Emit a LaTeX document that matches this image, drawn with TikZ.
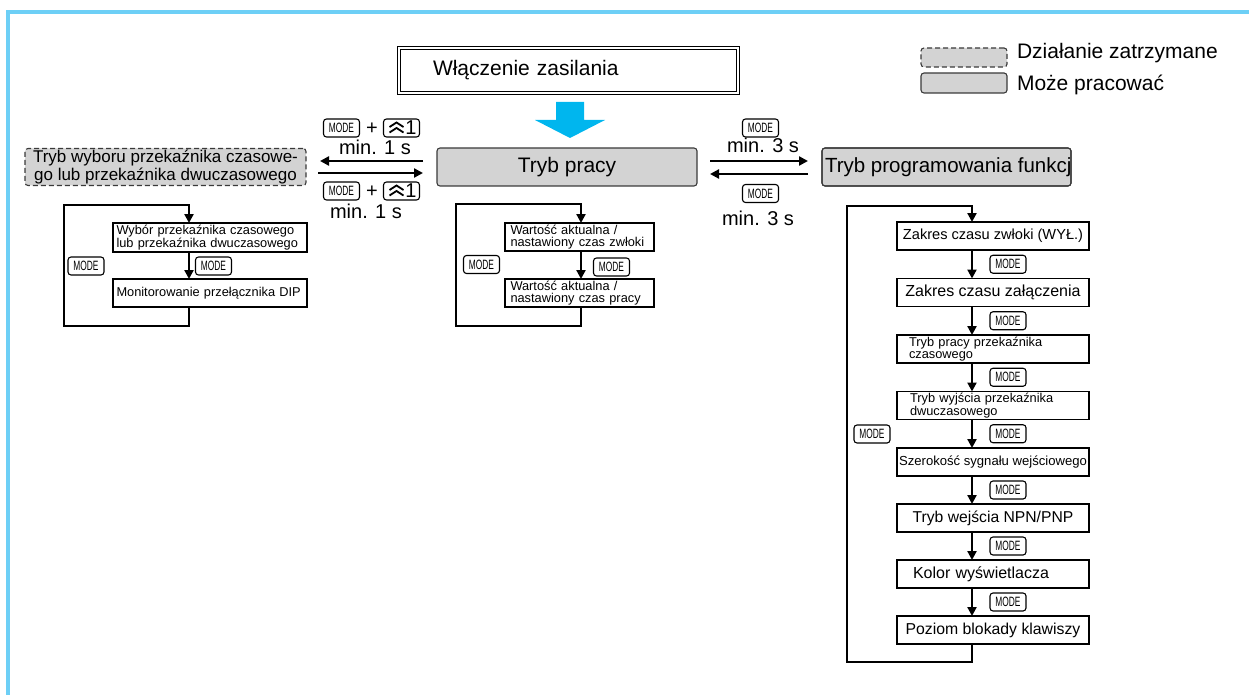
\documentclass[tikz,border=0pt]{standalone}
\usepackage{fontspec}
\usepackage{graphicx}
\setmainfont{Liberation Sans}
\usetikzlibrary{arrows.meta,calc}
\definecolor{framec}{HTML}{6DCFF6}
\definecolor{arrowc}{HTML}{00B6EE}
\definecolor{grayf}{HTML}{D3D3D3}
\definecolor{grayb}{HTML}{3A3A3A}
\newcommand{\modetxt}{\scalebox{0.62}[1]{MODE}}
\begin{document}
\begin{tikzpicture}[x=1pt,y=-1pt,
  every node/.style={inner sep=0pt,outer sep=0pt},
  big/.style={font=\fontsize{21}{21}\selectfont},
  lab/.style={font=\fontsize{20}{20}\selectfont},
  small/.style={font=\fontsize{12.8}{11.5}\selectfont},
  wbox/.style={draw,line width=1.1pt,fill=white},
  gbox/.style={draw=grayb,line width=1.1pt,fill=grayf,rounded corners=3pt},
  dbox/.style={draw=grayb,line width=1.1pt,fill=grayf,rounded corners=3pt,dash pattern=on 5pt off 3pt},
  conn/.style={line width=2.7pt,-{Triangle[length=9pt,width=9pt]}},
  key/.style={draw,line width=1.1pt,rounded corners=3pt,minimum width=36pt,minimum height=18pt,font=\fontsize{13.5}{13.5}\selectfont},
  chevs/.pic={\draw[line width=1.8pt] (-7,-1) -- (0,-5.5) -- (7,-1) (-7,4.5) -- (0,0) -- (7,4.5);}
]
\useasboundingbox (0,0) rectangle (1249,695);
% frame
\draw[framec,line width=4pt] (8,695) -- (8,12) -- (1249,12);

% legend
\node[dbox,minimum width=86pt,minimum height=19pt] (lg1) at (964,57.5) {};
\node[gbox,minimum width=86pt,minimum height=20pt] (lg2) at (964,83) {};
\node[font=\fontsize{21}{21}\selectfont,anchor=base west] (lt1) at (1017,59) {Działanie zatrzymane};
\node[font=\fontsize{21}{21}\selectfont,anchor=base west] (lt2) at (1017,91) {Może pracować};

% power on
\node[draw,double,double distance=2pt,line width=1pt,anchor=north west,minimum width=339pt,minimum height=45pt,
      text width=271pt,inner xsep=34pt,align=left,big] (pw) at (399,48) {Włączenie zasilania};
\fill[arrowc] (556,102) -- (584,102) -- (584,120) -- (605,120) -- (570,138) -- (535,120) -- (556,120) -- cycle;

% main modes
\node[gbox,big,minimum width=260pt,minimum height=38pt] (tp) at (567,167) {Tryb pracy};
\node[dbox,font=\fontsize{17}{14}\selectfont,minimum width=281pt,minimum height=37pt,align=center] (sel) at (165.5,167)
  {Tryb wyboru przekaźnika czasowe-\\go lub przekaźnika dwuczasowego};
\node[gbox,minimum width=249pt,minimum height=38pt] (pg) at (946.5,167) {};
\begin{scope}
\clip (pg.north west) rectangle (pg.south east);
\node[font=\fontsize{20.5}{20.5}\selectfont,anchor=west] (pgt) at (825,167) {Tryb programowania funkcji};
\end{scope}
\draw[grayb,line width=1.1pt,rounded corners=3pt] (pg.north west) rectangle (pg.south east);

% arrows left
\draw[conn] ([xshift=-14pt,yshift=6pt]tp.west) -- ([xshift=14pt,yshift=6pt]sel.east);
\draw[conn] ([xshift=12pt,yshift=-6pt]sel.east) -- ([xshift=-14pt,yshift=-6pt]tp.west);
\node[key] (k1) at (341.5,128) {\modetxt};
\node[lab] (p1) at (372,129) {+};
\node[key,lab] (u1) at (401.5,128) {\makebox[30pt][r]{1}};
\pic at ([xshift=-5pt]u1.center) {chevs};
\node[lab,anchor=base] (m1) at (375,155) {min. 1 s};
\node[key] (k2) at (341.5,191) {\modetxt};
\node[lab] (p2) at (372,192) {+};
\node[key,lab] (u2) at (401.5,191) {\makebox[30pt][r]{1}};
\pic at ([xshift=-5pt]u2.center) {chevs};
\node[lab,anchor=base] (m2) at (366,218) {min. 1 s};

% arrows right
\draw[conn] ([xshift=13pt,yshift=6pt]tp.east) -- ([xshift=-14pt,yshift=6pt]pg.west);
\draw[conn] ([xshift=-14pt,yshift=-7pt]pg.west) -- ([xshift=13pt,yshift=-7pt]tp.east);
\node[key] (k3) at (760.5,128) {\modetxt};
\node[lab,anchor=base] (m3) at (763,153) {min. 3 s};
\node[key] (k4) at (760.5,193.5) {\modetxt};
\node[lab,anchor=base] (m4) at (758,225) {min. 3 s};

% left loop
\node[wbox,small,text width=187pt,align=left,inner xsep=3.5pt,minimum height=29pt] (lb1) at (210,237.5)
  {Wybór przekaźnika czasowego\\lub przekaźnika dwuczasowego};
\node[wbox,small,text width=187pt,align=left,inner xsep=3.5pt,minimum height=28pt] (lb2) at (210,293)
  {Monitorowanie przełącznika DIP};
\coordinate (lx) at (189,0);
\coordinate (ltl) at (64,205);
\coordinate (lbl) at (64,326);
\draw[conn] (lb1.south -| lx) -- (lb2.north -| lx);
\draw[conn] (lb2.south -| lx) -- (lx |- lbl) -- (lbl) -- (ltl) -- (lx |- ltl) -- (lb1.north -| lx);
\node[key] (lk1) at (86,266) {\modetxt};
\node[key] (lk2) at (213.5,266) {\modetxt};

% center loop
\node[wbox,small,text width=138pt,align=left,inner xsep=5.5pt,minimum height=28pt] (cb1) at (579.5,237)
  {Wartość aktualna /\\nastawiony czas zwłoki};
\node[wbox,small,text width=138pt,align=left,inner xsep=5.5pt,minimum height=28pt] (cb2) at (579.5,293)
  {Wartość aktualna /\\nastawiony czas pracy};
\coordinate (cx) at (581,0);
\coordinate (ctl) at (456,204);
\coordinate (cbl) at (456,326);
\draw[conn] (cb1.south -| cx) -- (cb2.north -| cx);
\draw[conn] (cb2.south -| cx) -- (cx |- cbl) -- (cbl) -- (ctl) -- (cx |- ctl) -- (cb1.north -| cx);
\node[key] (ck1) at (481.5,264.5) {\modetxt};
\node[key] (ck2) at (611.5,267) {\modetxt};

% right loop
\node[wbox,font=\fontsize{14.6}{14.6}\selectfont,minimum width=192pt,minimum height=28pt] (rb1) at (993,236) {Zakres czasu zwłoki (WYŁ.)};
\node[wbox,font=\fontsize{16}{16}\selectfont,minimum width=192pt,minimum height=28pt] (rb2) at (993,292.5) {Zakres czasu załączenia};
\node[wbox,small,text width=168pt,align=left,inner xsep=12pt,minimum height=28pt] (rb3) at (993,349) {Tryb pracy przekaźnika\\czasowego};
\node[wbox,small,text width=166pt,align=left,inner xsep=13pt,minimum height=28pt] (rb4) at (993,405.5) {Tryb wyjścia przekaźnika\\dwuczasowego};
\node[wbox,font=\fontsize{13.1}{13.1}\selectfont,minimum width=192pt,minimum height=28pt] (rb5) at (993,462) {Szerokość sygnału wejściowego};
\node[wbox,font=\fontsize{15.7}{15.7}\selectfont,minimum width=192pt,minimum height=28pt] (rb6) at (993,518) {Tryb wejścia NPN/PNP};
\node[wbox,font=\fontsize{16}{16}\selectfont,text width=160pt,align=left,inner xsep=16pt,minimum height=28pt] (rb7) at (993,574) {Kolor wyświetlacza};
\node[wbox,font=\fontsize{15.8}{15.8}\selectfont,minimum width=192pt,minimum height=28pt] (rb8) at (993,630) {Poziom blokady klawiszy};
\coordinate (rx) at (972,0);
\coordinate (rtl) at (847,206);
\coordinate (rbl) at (847,662);
\foreach \a/\b in {rb1/rb2,rb2/rb3,rb3/rb4,rb4/rb5,rb5/rb6,rb6/rb7,rb7/rb8}
  \draw[conn] (\a.south -| rx) -- (\b.north -| rx);
\draw[conn] (rb8.south -| rx) -- (rx |- rbl) -- (rbl) -- (rtl) -- (rx |- rtl) -- (rb1.north -| rx);
\foreach \n/\y in {1/264.25,2/320.75,3/377.25,4/433.75,5/490,6/546,7/602}
  \node[key] (rk\n) at (1008,\y) {\modetxt};
\node[key] (rk0) at (872,434) {\modetxt};
\end{tikzpicture}
\end{document}
